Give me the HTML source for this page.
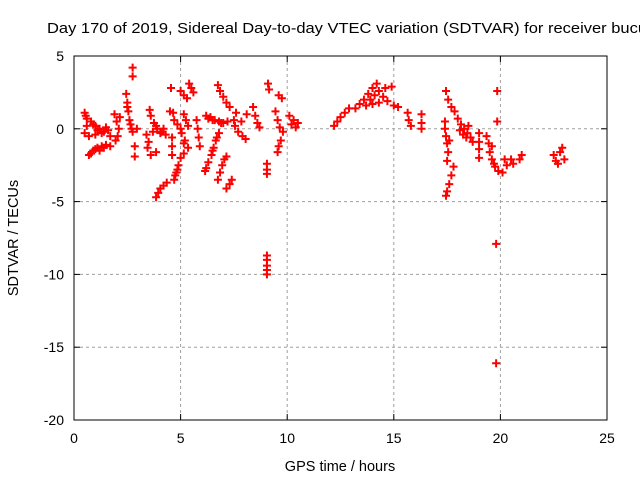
<!DOCTYPE html>
<html><head><meta charset="utf-8"><style>
html,body{margin:0;padding:0;background:#fff;}
svg{display:block;font-family:"Liberation Sans",sans-serif;}
</style></head><body>
<svg id="chart" width="640" height="480" viewBox="0 0 640 480">
<text x="47" y="33" font-size="15" textLength="600" lengthAdjust="spacingAndGlyphs" fill="#000">Day 170 of 2019, Sidereal Day-to-day VTEC variation (SDTVAR) for receiver bucu</text>
<g id="grid"></g>
<g id="ticks"></g>
<rect x="74" y="56" width="533" height="364" fill="none" stroke="#000" stroke-width="1"/>
<g id="points"></g>
<text x="340" y="471" font-size="14.5" text-anchor="middle">GPS time / hours</text>
<text transform="translate(18,238) rotate(-90)" font-size="14.5" text-anchor="middle">SDTVAR / TECUs</text>
</svg>
<script>
const xTicks=[0,5,10,15,20,25];
const yTicks=[5,0,-5,-10,-15,-20];
const hours=[0.5,0.6,0.8,1.0,1.2,1.4,1.6,1.3,1.0,0.7,0.5,0.6,1.5,1.7,0.9,1.1,0.55,
0.7,0.9,1.1,1.3,1.5,1.7,0.8,1.2,1.0,1.4,
1.9,2.0,2.1,2.05,1.95,2.15,
2.45,2.5,2.55,2.6,2.7,2.75,2.5,2.65,
2.75,2.75,2.85,2.85,2.95,
3.55,3.6,3.75,3.9,4.05,4.3,3.7,4.2,3.85,4.1,
3.4,3.5,3.45,3.6,3.85,
3.85,3.95,4.05,4.2,4.35,
4.55,5.0,5.15,5.3,
5.4,5.5,5.6,
4.5,4.65,4.7,4.85,5.0,5.15,5.25,5.35,
4.6,4.6,4.6,4.7,4.8,4.9,5.0,5.15,4.75,4.85,
5.05,5.2,5.35,5.15,
5.75,5.8,5.85,5.9,
6.2,6.4,6.6,6.8,7.0,7.2,6.3,6.5,6.9,
6.8,6.65,6.55,6.45,6.3,6.2,6.15,6.7,6.5,
6.75,6.85,7.0,7.15,7.3,
6.75,6.85,6.95,7.05,7.15,
7.15,7.3,7.4,
7.6,7.5,7.55,7.7,7.9,8.05,7.85,8.1,
8.4,8.5,8.6,8.7,
9.1,9.15,9.05,9.05,9.05,9.05,9.05,9.05,9.05,9.05,
9.6,9.75,9.45,9.55,9.65,9.8,9.7,9.6,9.55,
10.1,10.3,10.5,10.4,10.2,
12.2,12.35,12.5,12.7,12.9,
13.2,13.4,13.6,13.8,14.0,14.2,13.7,14.0,14.3,14.5,14.7,15.0,15.2,14.3,14.6,14.9,13.9,14.1,
15.65,15.7,15.8,16.3,16.3,16.3,
17.45,17.55,17.7,17.85,
17.4,17.4,17.45,17.5,17.55,17.5,17.6,
17.8,17.7,17.6,17.5,17.45,
18.0,18.15,18.3,18.45,18.6,18.7,18.25,18.5,18.1,18.4,
19.0,19.0,19.0,19.0,
19.35,19.45,19.5,19.6,19.75,19.9,19.6,19.7,
19.85,19.85,19.8,19.8,
20.1,20.3,20.5,20.6,20.9,21.0,20.2,
22.5,22.6,22.8,22.9,23.0,22.7];
const tecu=[1.1,0.7,0.5,0.2,0,-0.2,-0.1,-0.3,-0.4,-0.5,-0.3,0.2,0.1,-0.5,0.3,-0.1,0.9,
-1.8,-1.5,-1.3,-1.2,-1.1,-1.2,-1.7,-1.5,-1.4,-1.3,
1.0,0.5,0,-0.5,-0.8,0.8,
2.4,1.8,1.2,0.6,0,-0.2,1.5,0.3,
4.2,3.6,-1.2,-1.9,0,
1.3,0.9,0.4,0,-0.3,-0.4,-0.2,0,0.2,-0.2,
-0.4,-0.9,-1.3,-1.8,-1.6,
-4.7,-4.4,-4.1,-3.9,-3.7,
2.8,2.6,2.3,2.1,
3.1,2.8,2.5,
1.2,1.1,0.6,0.3,0,1.0,0.6,0.2,
-0.6,-1.2,-1.8,-3.5,-3.0,-2.5,-2.0,-1.7,-3.2,-2.8,
-0.3,-0.8,-1.3,-1.0,
0.6,0,-0.6,-1.2,
0.9,0.8,0.6,0.5,0.4,0.5,0.7,0.6,0.4,
-0.3,-0.8,-1.3,-1.8,-2.3,-2.7,-2.9,-0.6,-1.5,
3.0,2.6,2.2,1.8,1.5,
-3.5,-3.0,-2.5,-2.1,-1.9,
-4.1,-3.8,-3.5,
1.1,0.6,0.2,-0.2,-0.5,-0.7,0.5,1.0,
1.5,0.9,0.4,0.1,
3.1,2.7,-2.4,-2.8,-3.1,-8.7,-9.0,-9.4,-9.7,-10.0,
2.3,2.1,1.2,0.6,0.1,-0.2,-0.8,-1.2,-1.6,
0.9,0.6,0.4,0.1,0.3,
0.2,0.5,0.8,1.1,1.4,
1.4,1.7,2.0,2.4,2.8,3.1,1.6,1.7,2.6,2.2,1.9,1.6,1.5,1.8,2.8,2.9,2.0,2.3,
1.1,0.6,0.2,1.0,0.4,0.0,
2.6,2.0,1.5,1.2,
0.5,0,-0.5,-1.0,-1.6,-2.2,-0.8,
-2.6,-3.2,-3.8,-4.3,-4.6,
0.7,0.3,0,-0.3,-0.6,-0.9,-0.4,0.2,-0.1,-0.6,
-0.3,-0.9,-1.4,-2.0,
-0.5,-1.0,-1.6,-2.1,-2.6,-2.9,-1.2,-2.4,
2.6,0.5,-7.9,-16.1,
-3.0,-2.5,-2.1,-2.4,-2.1,-1.8,-2.1,
-1.8,-2.2,-1.6,-1.3,-2.1,-2.4];

const X0=74,X1=607,Y0=420,Y1=56;
function sx(h){return X0+(h-0)/(25-0)*(X1-X0);}
function sy(v){return Y0-(v+20)/(25)*(Y0-Y1);}
const NS="http://www.w3.org/2000/svg";
const grid=document.getElementById('grid'),ticks=document.getElementById('ticks'),pts=document.getElementById('points');
function mk(t,a,p){const e=document.createElementNS(NS,t);for(const k in a)e.setAttribute(k,a[k]);p.appendChild(e);return e;}
xTicks.forEach(t=>{
  const x=sx(t);
  if(t>0&&t<25){const g=mk('line',{x1:x,x2:x,y1:Y1,y2:Y0,stroke:'#a0a0a0','stroke-dasharray':'3,3'},grid);
    
    }
  const a=mk('line',{x1:x,x2:x,y1:Y0,y2:Y0-6,stroke:'#000'},ticks);
  
  
  const b=mk('line',{x1:x,x2:x,y1:Y1,y2:Y1+6,stroke:'#000'},ticks);
  
  
  const l=mk('text',{x:x,y:Y0+23,'font-size':'14','text-anchor':'middle'},ticks);l.textContent=t;
  
  
});
yTicks.forEach(t=>{
  const y=sy(t);
  if(t<5&&t>-20){const g=mk('line',{x1:X0,x2:X1,y1:y,y2:y,stroke:'#a0a0a0','stroke-dasharray':'3,3'},grid);
    
    }
  const a=mk('line',{x1:X0,x2:X0+6,y1:y,y2:y,stroke:'#000'},ticks);
  
  
  const b=mk('line',{x1:X1,x2:X1-6,y1:y,y2:y,stroke:'#000'},ticks);
  
  
  const l=mk('text',{x:X0-10,y:y+5,'font-size':'14','text-anchor':'end'},ticks);l.textContent=t;
  
  
});
hours.forEach((h,i)=>{
  const x=sx(h),y=sy(tecu[i]),r=4;
  const p=mk('path',{d:`M${x-r},${y}H${x+r}M${x},${y-r}V${y+r}`,stroke:'#ff0000','stroke-width':'2',fill:'none'},pts);
  
  
});
</script>
</body></html>
